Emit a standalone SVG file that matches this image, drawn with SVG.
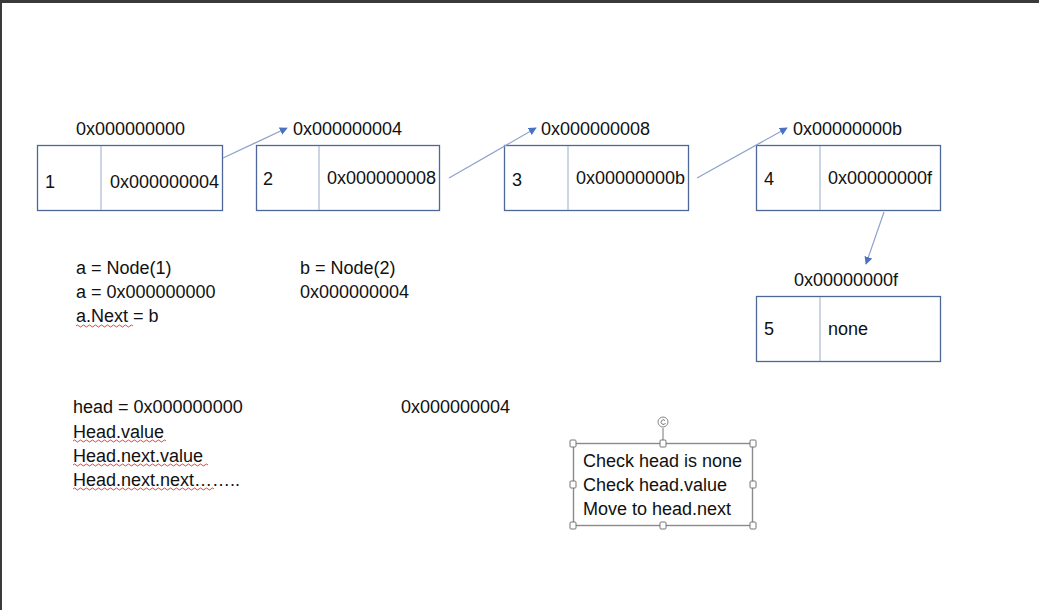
<svg xmlns="http://www.w3.org/2000/svg" width="1039" height="610" viewBox="0 0 1039 610">
<defs>
<style>
.t{font-family:"Liberation Sans",Arial,sans-serif;font-size:18px;fill:#111}
.box{fill:#fff;stroke:#4d6898;stroke-width:1.3}
.div{stroke:#9aabc8;stroke-width:1}
.con{stroke:#8ea3cc;stroke-width:1.2;fill:none}
.sq{fill:none;stroke:#e0302a;stroke-width:0.9}
.h{fill:#fff;stroke:#777;stroke-width:1}
</style>
<marker id="ah" viewBox="0 0 10 10" refX="9" refY="5" markerWidth="8" markerHeight="8" orient="auto" markerUnits="userSpaceOnUse">
<path d="M0,0 L10,5 L0,10 z" fill="#4a72c4"/>
</marker>
</defs>
<rect x="0" y="0" width="1039" height="610" fill="#fff"/>
<rect x="0" y="0" width="1039" height="3" fill="#3a3a3a"/>
<rect x="0" y="0" width="2" height="610" fill="#3a3a3a"/>

<g id="node1">
<text class="t" x="76" y="135">0x000000000</text>
<rect class="box" x="37.5" y="145.5" width="185" height="65"/>
<line class="div" x1="101" y1="146" x2="101" y2="210"/>
<text class="t" x="45" y="188">1</text>
<text class="t" x="110" y="188">0x000000004</text>
</g>
<g id="node2">
<text class="t" x="293" y="135">0x000000004</text>
<rect class="box" x="256.5" y="145.5" width="183" height="65"/>
<line class="div" x1="319" y1="146" x2="319" y2="210"/>
<text class="t" x="263" y="185">2</text>
<text class="t" x="327" y="184">0x000000008</text>
</g>
<g id="node3">
<text class="t" x="541" y="135">0x000000008</text>
<rect class="box" x="504.5" y="145.5" width="184" height="65"/>
<line class="div" x1="568" y1="146" x2="568" y2="210"/>
<text class="t" x="512" y="186">3</text>
<text class="t" x="576" y="184">0x00000000b</text>
</g>
<g id="node4">
<text class="t" x="793" y="135">0x00000000b</text>
<rect class="box" x="756.5" y="145.5" width="184" height="65"/>
<line class="div" x1="820" y1="146" x2="820" y2="210"/>
<text class="t" x="764" y="185">4</text>
<text class="t" x="828" y="184">0x00000000f</text>
</g>
<g id="node5">
<text class="t" x="794" y="286">0x00000000f</text>
<rect class="box" x="756.5" y="296.5" width="184" height="65"/>
<line class="div" x1="820" y1="297" x2="820" y2="361"/>
<text class="t" x="764" y="335">5</text>
<text class="t" x="828" y="335">none</text>
</g>

<g id="connectors">
<line class="con" x1="223" y1="158" x2="287" y2="128" marker-end="url(#ah)"/>
<line class="con" x1="449" y1="178" x2="536" y2="128" marker-end="url(#ah)"/>
<line class="con" x1="697" y1="178" x2="787" y2="128" marker-end="url(#ah)"/>
<line class="con" x1="884" y1="212" x2="866" y2="264" marker-end="url(#ah)"/>
</g>

<g id="notes-ab">
<text class="t" x="76" y="274">a = Node(1)</text>
<text class="t" x="76" y="298">a = 0x000000000</text>
<text class="t" x="76" y="322">a.Next = b</text>
<path class="sq" d="M76,326 q1.5,-2 3,0 t3,0 t3,0 t3,0 t3,0 t3,0 t3,0 t3,0 t3,0 t3,0 t3,0 t3,0 t3,0 t3,0 t3,0 t3,0 t3,0 t3,0 t3,0"/>
<text class="t" x="300" y="274">b = Node(2)</text>
<text class="t" x="300" y="298">0x000000004</text>
</g>

<g id="notes-head">
<text class="t" x="73" y="413">head = 0x000000000</text>
<text class="t" x="73" y="438">Head.value</text>
<text class="t" x="73" y="462">Head.next.value</text>
<text class="t" x="73" y="486">Head.next.next……..</text>
<path class="sq" d="M73,441 q1.5,-2 3,0 t3,0 t3,0 t3,0 t3,0 t3,0 t3,0 t3,0 t3,0 t3,0 t3,0 t3,0 t3,0 t3,0 t3,0 t3,0 t3,0 t3,0 t3,0 t3,0 t3,0 t3,0 t3,0 t3,0 t3,0 t3,0 t3,0 t3,0 t3,0 t3,0 t3,0"/>
<path class="sq" d="M73,465 q1.5,-2 3,0 t3,0 t3,0 t3,0 t3,0 t3,0 t3,0 t3,0 t3,0 t3,0 t3,0 t3,0 t3,0 t3,0 t3,0 t3,0 t3,0 t3,0 t3,0 t3,0 t3,0 t3,0 t3,0 t3,0 t3,0 t3,0 t3,0 t3,0 t3,0 t3,0 t3,0 t3,0 t3,0 t3,0 t3,0 t3,0 t3,0 t3,0 t3,0 t3,0 t3,0 t3,0 t3,0 t3,0 t3,0"/>
<path class="sq" d="M73,489 q1.5,-2 3,0 t3,0 t3,0 t3,0 t3,0 t3,0 t3,0 t3,0 t3,0 t3,0 t3,0 t3,0 t3,0 t3,0 t3,0 t3,0 t3,0 t3,0 t3,0 t3,0 t3,0 t3,0 t3,0 t3,0 t3,0 t3,0 t3,0 t3,0 t3,0 t3,0 t3,0 t3,0 t3,0 t3,0 t3,0 t3,0 t3,0 t3,0 t3,0 t3,0 t3,0 t3,0 t3,0 t3,0 t3,0 t3,0 t3,0"/>
<text class="t" x="401" y="413">0x000000004</text>
</g>

<g id="textbox">
<line x1="663" y1="428" x2="663" y2="443" stroke="#777" stroke-width="1"/>
<circle cx="663" cy="422" r="5" fill="#fff" stroke="#888" stroke-width="1"/>
<path d="M665,420.5 a2.3,2.3 0 1 0 0.5,2.5" fill="none" stroke="#666" stroke-width="0.9"/>
<rect x="573.5" y="443.5" width="179" height="82" fill="#fff" stroke="#8a8a8a" stroke-width="1.4"/>
<rect class="h" x="570" y="440" width="6" height="7" rx="1"/>
<rect class="h" x="660" y="440" width="6" height="7" rx="1"/>
<rect class="h" x="750" y="440" width="6" height="7" rx="1"/>
<rect class="h" x="570" y="481" width="6" height="7" rx="1"/>
<rect class="h" x="750" y="481" width="6" height="7" rx="1"/>
<rect class="h" x="570" y="522" width="6" height="7" rx="1"/>
<rect class="h" x="660" y="522" width="6" height="7" rx="1"/>
<rect class="h" x="750" y="522" width="6" height="7" rx="1"/>
<text class="t" x="583" y="467">Check head is none</text>
<text class="t" x="583" y="491">Check head.value</text>
<text class="t" x="583" y="515">Move to head.next</text>
</g>
</svg>
